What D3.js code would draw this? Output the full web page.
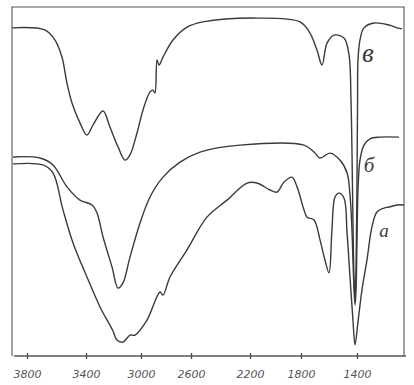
<!DOCTYPE html>
<html>
<head>
<meta charset="utf-8">
<script src="https://cdn.jsdelivr.net/npm/d3@7"></script>
<style>
  body { margin: 0; background: #fff; }
  svg { display: block; }
</style>
</head>
<body>
<div id="chart"></div>
<script>
// IR spectra, wavenumber (cm-1) vs transmittance (%)
var tickLabels = [3800, 3400, 3000, 2600, 2200, 1800, 1400];

// curve "в" (top)
var wnV = [3900, 3680, 3610, 3563, 3529, 3495, 3441, 3393, 3349, 3276, 3226, 3167, 3116, 3080, 3029, 2984, 2928, 2904, 2888, 2872, 2856, 2824, 2744, 2632, 2519, 2145, 1808, 1736, 1686, 1650, 1614, 1564, 1493, 1457, 1443, 1436, 1429, 1421, 1414, 1407, 1400, 1396, 1393, 1379, 1351, 1281, 1175, 1119, 1084];
var tV = [94.3, 93.7, 90.8, 85.9, 78.4, 72.7, 67.0, 63.5, 66.4, 70.4, 65.8, 60.1, 56.3, 57.8, 64.1, 70.7, 75.9, 76.4, 75.6, 85.1, 83.6, 85.9, 90.8, 94.5, 96.0, 97.1, 96.0, 92.8, 87.9, 83.6, 89.9, 92.2, 91.4, 86.5, 73.6, 59.2, 39.1, 21.8, 16.1, 24.7, 50.6, 73.6, 85.1, 90.8, 94.3, 95.7, 95.1, 94.3, 94.0];

// curve "б" (middle)
var wnB = [3893, 3712, 3624, 3529, 3441, 3356, 3320, 3276, 3211, 3167, 3131, 3080, 3007, 2928, 2824, 2688, 2539, 2268, 1779, 1707, 1664, 1593, 1522, 1471, 1450, 1436, 1429, 1421, 1414, 1407, 1400, 1393, 1379, 1351, 1309, 1239, 1105];
var tB = [57.2, 56.9, 54.9, 48.6, 44.8, 43.4, 41.1, 34.2, 25.6, 19.5, 21.0, 28.4, 38.2, 45.7, 51.4, 55.7, 58.6, 60.6, 60.6, 58.6, 56.9, 58.3, 56.3, 52.6, 46.3, 36.2, 27.6, 19.0, 14.7, 19.0, 33.3, 47.7, 56.3, 60.6, 62.4, 62.9, 62.9];

// curve "а" (bottom)
var wnA = [3893, 3692, 3624, 3556, 3488, 3393, 3298, 3204, 3175, 3131, 3080, 3044, 2952, 2848, 2824, 2768, 2632, 2492, 2356, 2220, 2145, 2043, 1988, 1933, 1871, 1831, 1779, 1757, 1707, 1664, 1629, 1600, 1579, 1557, 1529, 1493, 1471, 1450, 1429, 1414, 1393, 1365, 1330, 1295, 1260, 1210, 1175, 1119, 1070];
var tA = [55.2, 54.9, 52.6, 42.0, 32.5, 22.7, 14.1, 7.2, 4.6, 4.0, 6.0, 6.0, 10.3, 18.4, 17.5, 22.7, 30.5, 39.9, 44.8, 49.7, 49.7, 47.7, 47.1, 50.0, 51.4, 48.6, 42.0, 39.9, 39.1, 33.3, 27.6, 23.9, 36.2, 45.7, 46.8, 45.4, 35.3, 22.7, 10.3, 3.2, 9.8, 19.0, 27.6, 37.1, 41.4, 42.5, 42.8, 43.4, 43.4];

var curveNames = ["в", "б", "а"];
var labelWn = [1323, 1316, 1210];
var labelT = [84.5, 53, 34.2];

var width = 414, height = 385;
var marginL = 12, marginR = 404, marginT = 7, marginB = 356;

var svg = d3.select("#chart").append("svg")
  .attr("width", width)
  .attr("height", height);

// hand drawn scale is not quite uniform, so break points at each tick
var x = d3.scaleLinear()
  .domain([3900, 3800, 3400, 3000, 2600, 2200, 1800, 1400, 1070])
  .range([marginL, 27, 86, 141, 191, 250, 301, 357, marginR]);

var y = d3.scaleLinear()
  .domain([0, 100])
  .range([marginB, 8]);

var ink = "#3a3a3a";

// frame
svg.append("path")
  .attr("d", "M" + marginL + "," + marginB + "V" + marginT + "H" + marginR + "V" + marginB)
  .attr("fill", "none")
  .attr("stroke", "#555")
  .attr("stroke-width", 1.1);

// x axis
var xAxis = d3.axisBottom(x)
  .tickValues(tickLabels)
  .tickSizeInner(4)
  .tickSizeOuter(0)
  .tickPadding(10)
  .tickFormat(d3.format("d"));

var gx = svg.append("g")
  .attr("transform", "translate(0," + marginB + ")")
  .call(xAxis);

gx.select(".domain").remove();
gx.append("line")
  .attr("x1", marginL + 2).attr("x2", marginR + 2)
  .attr("stroke", "#555").attr("stroke-width", 1.3);
gx.selectAll(".tick line")
  .attr("y1", -3).attr("y2", 3)
  .attr("stroke", "#444").attr("stroke-width", 1.3);
gx.selectAll(".tick text")
  .attr("fill", "#555")
  .attr("font-family", "DejaVu Sans")
  .attr("font-style", "italic")
  .attr("font-size", 11);

var line = d3.line()
  .x(function(d) { return x(d[0]); })
  .y(function(d) { return y(d[1]); })
  .curve(d3.curveCatmullRom.alpha(0.5));

var series = [d3.zip(wnV, tV), d3.zip(wnB, tB), d3.zip(wnA, tA)];

svg.selectAll(".spec")
  .data(series)
  .enter().append("path")
  .attr("class", "spec")
  .attr("d", line)
  .attr("fill", "none")
  .attr("stroke", ink)
  .attr("stroke-width", 1.4)
  .attr("stroke-linejoin", "round");

// curve letters
var sizes = [27, 21, 19];
svg.selectAll(".lbl")
  .data(curveNames)
  .enter().append("text")
  .attr("class", "lbl")
  .attr("x", function(d, i) { return x(labelWn[i]); })
  .attr("y", function(d, i) { return y(labelT[i]); })
  .attr("text-anchor", "middle")
  .attr("font-family", "Liberation Serif")
  .attr("font-style", "italic")
  .attr("font-size", function(d, i) { return sizes[i]; })
  .attr("fill", ink)
  .text(function(d) { return d; });
</script>
</body>
</html>
